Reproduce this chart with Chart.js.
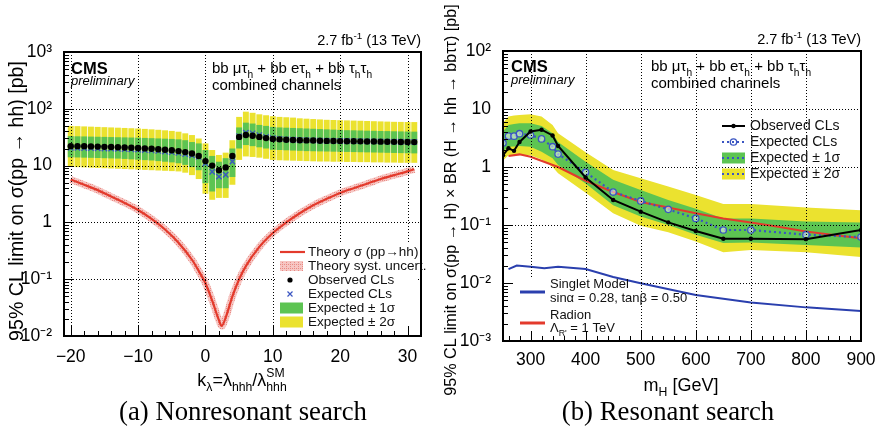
<!DOCTYPE html>
<html>
<head>
<meta charset="utf-8">
<script src="https://cdn.jsdelivr.net/npm/chart.js@4.4.1/dist/chart.umd.min.js"></script>
<style>
    html, body { margin: 0; padding: 0; background: #fff; }
    #wrap { position: relative; width: 877px; height: 431px; }
    #cA { position: absolute; left: 0; top: 0; width: 440px; height: 431px; }
    #cB { position: absolute; left: 440px; top: 0; width: 437px; height: 431px; }
</style>
</head>
<body>
<div id="wrap">
    <canvas id="cA" width="440" height="431"></canvas>
    <canvas id="cB" width="437" height="431"></canvas>
</div>
<script>
// =============================================
// DATA - (a) nonresonant search
// =============================================

const kLambda = [-20,-19,-18,-17,-16,-15,-14,-13,-12,-11,-10,-9,-8,-7,-6,-5,-4,-3,-2,-1,
                 0,1,2,3,4,
                 5,6,7,8,9,10,11,12,13,14,15,16,17,18,19,20,21,22,23,24,25,26,27,28,29,30,31];

const obsA = [22.0,22.0,22.0,21.8,21.6,21.4,21.2,21.0,20.8,20.6,20.4,20.1,19.8,19.4,19.0,18.6,18.0,17.3,16.3,14.8,
              12.0,10.0,8.3,9.3,14.8,
              32.0,34.5,33.5,32.0,30.5,29.5,29.0,28.6,28.3,28.0,27.8,27.6,27.4,27.2,27.1,27.0,26.9,26.8,26.7,26.6,26.5,26.4,26.3,26.2,26.1,26.0,25.9];

const expA = [20.5,20.5,20.4,20.3,20.2,20.0,19.9,19.7,19.5,19.3,19.1,18.8,18.5,18.1,17.7,17.2,16.7,16.0,15.2,14.2,
              11.0,7.8,6.4,6.9,11.8,
              33.0,38.0,37.0,34.5,32.0,30.5,29.5,29.0,28.6,28.2,28.0,27.8,27.6,27.4,27.3,27.2,27.1,27.0,26.9,26.8,26.7,26.6,26.5,26.4,26.3,26.2,26.1];

const sig1LoA = [14.0,13.9,13.8,13.7,13.6,13.5,13.4,13.3,13.1,12.9,12.7,12.5,12.3,12.0,11.7,11.4,11.0,10.3,9.4,8.3,
                 4.9,3.5,4.0,4.0,6.3,
                 20.0,23.0,22.0,21.0,20.0,19.0,18.8,18.6,18.4,18.2,18.0,17.9,17.8,17.7,17.6,17.5,17.4,17.3,17.2,17.1,17.0,16.9,16.8,16.7,16.6,16.5,16.4];
const sig1HiA = [33.0,32.8,32.6,32.4,32.2,32.0,31.8,31.6,31.4,31.2,31.0,30.7,30.4,30.1,29.8,29.5,29.0,28.0,26.0,24.6,
                 18.8,14.8,11.7,13.5,20.0,
                 47,57,55,52,50,48,47,46.5,46,45.5,45,44.5,44,43.5,43,42.5,42,41.8,41.5,41.2,41,40.7,40.5,40.2,40,39.8,39.6];
const sig2LoA = [9.5,9.4,9.3,9.2,9.1,9.0,8.9,8.8,8.7,8.6,8.5,8.4,8.3,8.2,8.1,8.0,7.9,7.5,6.8,5.8,
                 3.2,2.5,2.7,2.7,4.6,
                 12.6,14.5,14.2,13.8,13.2,12.6,12.4,12.3,12.2,12.1,12.0,11.9,11.8,11.8,11.7,11.7,11.6,11.6,11.5,11.5,11.4,11.4,11.3,11.3,11.2,11.2,11.2];
const sig2HiA = [50,49.5,49,48.5,48,47.5,47,46.5,46,45.5,45,44.3,43.5,42.7,41.8,40.8,39.5,37,34.5,30,
                 24.6,18.8,15.4,16.9,28,
                 72,89,85,80,77,74,72,71,70,68,67,66,65,64,63.5,63,62.5,62,61.5,61,60.5,60,59.5,59,58.8,58.6,58.4];

// theory sigma(pp->hh) curve
const theoryK  = [-20,-18,-16,-14,-12,-10,-8,-6,-4,-2,-1,0,1,2,2.4,3,4,5,6,8,10,12,14,16,18,20,22,24,26,28,30,31];
const theoryXS = [5.7,4.6,3.7,2.85,2.2,1.65,1.15,0.75,0.44,0.22,0.14,0.085,0.042,0.019,0.015,0.021,0.05,0.1,0.17,
                  0.37,0.65,1.0,1.45,2.0,2.6,3.3,4.0,4.8,5.8,6.8,7.9,8.6];

const kTicks    = [-20, -10, 0, 10, 20, 30];
const kLabels   = ["\u221220", "\u221210", "0", "10", "20", "30"];
const yTicksA   = [1e-2, 1e-1, 1, 10, 100, 1000];
const yLabelsA  = ["10\u207B\u00B2", "10\u207B\u00B9", "1", "10", "10\u00B2", "10\u00B3"];

// =============================================
// DATA - (b) resonant search
// =============================================

const massH  = [250,260,270,280,300,320,340,350,400,450,500,550,600,650,700,800,900];
const obsB   = [1.6,2.1,1.9,2.7,4.1,4.4,3.5,2.3,0.66,0.27,0.17,0.111,0.079,0.058,0.058,0.057,0.082];
const expB   = [2.6,3.4,3.4,3.75,3.56,3.05,2.24,1.67,0.81,0.37,0.26,0.186,0.13,0.082,0.082,0.068,0.062];
const sig1LoB = [1.84,2.24,2.25,2.3,2.24,1.84,1.41,1.08,0.52,0.22,0.14,0.1,0.068,0.049,0.05,0.045,0.041];
const sig1HiB = [4.1,5.3,5.5,5.7,5.7,5.1,3.8,2.7,1.23,0.6,0.4,0.27,0.19,0.13,0.13,0.115,0.11];
const sig2LoB = [1.3,1.6,1.6,1.6,1.6,1.35,1.0,0.78,0.36,0.16,0.097,0.075,0.052,0.034,0.037,0.034,0.028];
const sig2HiB = [5.8,7.4,7.7,7.9,8.1,7.4,5.3,3.8,1.8,0.89,0.64,0.46,0.33,0.23,0.23,0.2,0.18];

const radionMass = [260,280,300,350,400,450,500,550,600,650,700,750,800,850,900];
const radionXS   = [1.55,1.65,1.5,1.0,0.58,0.37,0.25,0.2,0.16,0.13,0.11,0.093,0.077,0.067,0.059];

const singletMass = [260,275,300,325,350,400,450,500,600,700,800,900];
const singletXS   = [0.0174,0.02,0.019,0.0179,0.019,0.0174,0.0127,0.0099,0.0062,0.0046,0.0038,0.0033];

const mTicks   = [300, 400, 500, 600, 700, 800, 900];
const mLabels  = ["300", "400", "500", "600", "700", "800", "900"];
const yTicksB  = [1e-3, 1e-2, 1e-1, 1, 10, 100];
const yLabelsB = ["10\u207B\u00B3", "10\u207B\u00B2", "10\u207B\u00B9", "1", "10", "10\u00B2"];

// =============================================
// STYLE
// =============================================

const SANS  = '"Liberation Sans", Arial, Helvetica, sans-serif';
const SERIF = '"Liberation Serif", "Times New Roman", serif';
const GREEN  = "#5dc452";
const YELLOW = "#ebe22f";
const BLUE   = "#3a55c2";
const RED    = "#e33a2c";

function pts(xs, ys) {
    return xs.map((x, i) => ({ x: x, y: ys[i] }));
}
function bars(xs, lo, hi) {
    return xs.map((x, i) => ({ x: x, y: [lo[i], hi[i]] }));
}
function minorLog(e0, e1) {
    const out = [];
    for (let e = e0; e < e1; e++) {
        for (let m = 2; m <= 9; m++) out.push(m * Math.pow(10, e));
    }
    return out;
}
function range(a, b, step) {
    const out = [];
    for (let v = a; v <= b; v += step) out.push(v);
    return out;
}

// pink hatch for theory uncertainty
function makeHatch(ctx) {
    const c = document.createElement("canvas");
    c.width = 4; c.height = 4;
    const g = c.getContext("2d");
    g.fillStyle = "#f6c6c3";
    g.fillRect(0, 0, 4, 4);
    g.fillStyle = "#e98a84";
    g.fillRect(0, 0, 1, 1);
    g.fillRect(2, 2, 1, 1);
    g.fillRect(2, 0, 1, 1);
    return ctx.createPattern(c, "repeat");
}

// text with sub/superscripts: parts = [text, mode] (0 normal, 1 sub, 2 sup, 3 [sup, sub] stacked)
function richText(ctx, parts, x, y, size, align) {
    const small = size * 0.68;
    const widthOf = (p) => {
        if (p[1] === 3) {
            ctx.font = `${small}px ${SANS}`;
            return Math.max(ctx.measureText(p[0][0]).width, ctx.measureText(p[0][1]).width);
        }
        ctx.font = `${p[1] ? small : size}px ${SANS}`;
        return ctx.measureText(p[0]).width;
    };
    let total = 0;
    parts.forEach(p => total += widthOf(p));
    let cx = align === "center" ? x - total / 2 : align === "right" ? x - total : x;
    ctx.textAlign = "left";
    ctx.textBaseline = "alphabetic";
    parts.forEach(p => {
        const w = widthOf(p);
        if (p[1] === 3) {
            ctx.font = `${small}px ${SANS}`;
            ctx.fillText(p[0][0], cx, y - size * 0.5);
            ctx.fillText(p[0][1], cx, y + size * 0.3);
        } else {
            ctx.font = `${p[1] ? small : size}px ${SANS}`;
            const dy = p[1] === 1 ? size * 0.3 : p[1] === 2 ? -size * 0.42 : 0;
            ctx.fillText(p[0], cx, y + dy);
        }
        cx += w;
    });
}

function captionSize(ctx) {
    ctx.font = `22px ${SERIF}`;
    return 22 * 248 / ctx.measureText("(a) Nonresonant search").width;
}

// grid drawn over the bands, ROOT style; the legend area is left free
function drawGrid(chart, xMajor, yMajor, hole) {
    const { ctx, chartArea: a, scales: { x, y } } = chart;
    ctx.save();
    ctx.beginPath();
    ctx.rect(a.left, a.top, a.right - a.left, a.bottom - a.top);
    ctx.rect(hole[0], hole[1], hole[2], hole[3]);
    ctx.clip("evenodd");
    ctx.strokeStyle = "#000";
    ctx.lineWidth = 1;
    ctx.setLineDash([1, 2]);
    ctx.beginPath();
    xMajor.forEach(v => {
        const p = Math.round(x.getPixelForValue(v)) + 0.5;
        if (p > a.left + 2 && p < a.right - 2) { ctx.moveTo(p, a.top); ctx.lineTo(p, a.bottom); }
    });
    yMajor.forEach(v => {
        const p = Math.round(y.getPixelForValue(v)) + 0.5;
        if (p > a.top + 2 && p < a.bottom - 2) { ctx.moveTo(a.left, p); ctx.lineTo(a.right, p); }
    });
    ctx.stroke();
    ctx.restore();
}

function drawTicksFrame(chart, xMajor, xMinor, yMajor, yMinor) {
    const { ctx, chartArea: a, scales: { x, y } } = chart;
    ctx.save();
    ctx.strokeStyle = "#000";
    ctx.lineWidth = 1;
    ctx.beginPath();
    const xt = (list, len) => list.forEach(v => {
        const p = Math.round(x.getPixelForValue(v)) + 0.5;
        if (p >= a.left && p <= a.right) { ctx.moveTo(p, a.bottom); ctx.lineTo(p, a.bottom - len); }
    });
    const yt = (list, len) => list.forEach(v => {
        const p = Math.round(y.getPixelForValue(v)) + 0.5;
        if (p >= a.top && p <= a.bottom) { ctx.moveTo(a.left, p); ctx.lineTo(a.left + len, p); }
    });
    xt(xMajor, 10); xt(xMinor, 5);
    yt(yMajor, 10); yt(yMinor, 5);
    ctx.stroke();
    ctx.lineWidth = 2;
    ctx.strokeRect(a.left, a.top, a.right - a.left, a.bottom - a.top);
    ctx.restore();
}

function drawHeader(ctx, right, lumiY, cmsY, prelY, chanX, chanY, combY) {
    ctx.fillStyle = "#000";
    richText(ctx, [["2.7 fb", 0], ["-1", 2], [" (13 TeV)", 0]], right, lumiY, 14.5, "right");
    ctx.textAlign = "left";
    ctx.textBaseline = "alphabetic";
    ctx.font = `bold 16.5px ${SANS}`;
    ctx.fillText("CMS", 71, cmsY);
    ctx.font = `italic 13px ${SANS}`;
    ctx.fillText("preliminary", 71, prelY);
    richText(ctx, [["bb \u03BC\u03C4", 0], ["h", 1], [" + bb e\u03C4", 0], ["h", 1],
                   [" + bb \u03C4", 0], ["h", 1], ["\u03C4", 0], ["h", 1]], chanX, chanY, 15, "left");
    ctx.font = `15px ${SANS}`;
    ctx.fillText("combined channels", chanX, combY);
}

// rotated axis title, font size chosen so the text spans the given length
function drawRotated(ctx, text, cx, cy, span) {
    ctx.save();
    ctx.font = `18px ${SANS}`;
    const size = 18 * span / ctx.measureText(text).width;
    ctx.translate(cx, cy);
    ctx.rotate(-Math.PI / 2);
    ctx.font = `${size}px ${SANS}`;
    ctx.textAlign = "center";
    ctx.textBaseline = "middle";
    ctx.fillStyle = "#000";
    ctx.fillText(text, 0, 0);
    ctx.restore();
}

// =============================================
// CHART (a)
// =============================================

const ctxA = document.getElementById("cA").getContext("2d");
const hatch = makeHatch(ctxA);

const xMinorA = range(-20, 32, 2);
const yMinorA = minorLog(-2, 3);
const legendBoxA = [277, 243, 141, 88];

const panelA = {
    id: "panelA",
    afterDatasetsDraw(chart) {
        drawGrid(chart, kTicks, yTicksA, legendBoxA);
    },
    afterDraw(chart) {
        const ctx = chart.ctx;
        ctx.save();

        // legend
        const rows = [252, 266, 280, 294, 308, 322];
        ctx.strokeStyle = RED; ctx.lineWidth = 2.2;
        ctx.beginPath(); ctx.moveTo(280, rows[0]); ctx.lineTo(305, rows[0]); ctx.stroke();
        ctx.fillStyle = hatch; ctx.fillRect(280, rows[1] - 5, 23, 10);
        ctx.fillStyle = "#000";
        ctx.beginPath(); ctx.arc(290, rows[2], 2.6, 0, Math.PI * 2); ctx.fill();
        ctx.strokeStyle = BLUE; ctx.lineWidth = 1.2;
        ctx.beginPath();
        ctx.moveTo(287.5, rows[3] - 2.5); ctx.lineTo(292.5, rows[3] + 2.5);
        ctx.moveTo(292.5, rows[3] - 2.5); ctx.lineTo(287.5, rows[3] + 2.5);
        ctx.stroke();
        ctx.fillStyle = GREEN; ctx.fillRect(280, rows[4] - 5.5, 23, 11);
        ctx.fillStyle = YELLOW; ctx.fillRect(280, rows[5] - 5.5, 23, 11);
        ctx.fillStyle = "#111";
        ctx.font = `13.5px ${SANS}`;
        ctx.textAlign = "left"; ctx.textBaseline = "middle";
        ["Theory \u03C3 (pp\u2192hh)", "Theory syst. uncert.", "Observed CLs", "Expected CLs",
         "Expected \u00B1 1\u03C3", "Expected \u00B1 2\u03C3"].forEach((t, i) => ctx.fillText(t, 308, rows[i]));

        drawTicksFrame(chart, kTicks, xMinorA, yTicksA, yMinorA);

        drawHeader(ctx, 421, 45, 74, 85, 212, 73, 90);
        drawRotated(ctx, "95% CL limit on \u03C3(pp \u2192 hh) [pb]", 18, 201, 280);
        richText(ctx, [["k", 0], ["\u03BB", 1], ["=\u03BB", 0], ["hhh", 1], ["/\u03BB", 0], [["SM", "hhh"], 3]],
                 242, 386, 18, "center");
        const cs = captionSize(ctx);
        ctx.font = `${cs}px ${SERIF}`;
        ctx.textAlign = "center"; ctx.textBaseline = "alphabetic"; ctx.fillStyle = "#000";
        ctx.fillText("(a) Nonresonant search", 243, 420);
        ctx.restore();
    }
};

new Chart(ctxA, {
    type: "line",
    data: {
        datasets: [
            {
                label: "Observed CLs", data: pts(kLambda, obsA), showLine: false,
                pointStyle: "circle", pointRadius: 3.2, pointBackgroundColor: "#000",
                pointBorderColor: "#000", pointBorderWidth: 0, order: 0
            },
            {
                label: "Expected CLs", data: pts(kLambda, expA), showLine: false,
                pointStyle: "crossRot", pointRadius: 3.8, pointBorderColor: BLUE,
                pointBorderWidth: 1.3, order: 1
            },
            {
                label: "Theory", data: pts(theoryK, theoryXS), borderColor: RED, borderWidth: 2.2,
                pointRadius: 0, cubicInterpolationMode: "monotone", order: 2
            },
            {
                label: "Theory syst.", data: pts(theoryK, theoryXS), borderColor: hatch, borderWidth: 7,
                pointRadius: 0, cubicInterpolationMode: "monotone", order: 3
            },
            {
                type: "bar", label: "1 sigma", data: bars(kLambda, sig1LoA, sig1HiA),
                backgroundColor: GREEN, grouped: false, barPercentage: 0.88, categoryPercentage: 1, order: 4
            },
            {
                type: "bar", label: "2 sigma", data: bars(kLambda, sig2LoA, sig2HiA),
                backgroundColor: YELLOW, grouped: false, barPercentage: 0.88, categoryPercentage: 1, order: 5
            }
        ]
    },
    options: {
        responsive: false,
        animation: false,
        layout: { padding: { left: 0, top: 52, right: 19, bottom: 0 } },
        plugins: { legend: { display: false }, tooltip: { enabled: false } },
        scales: {
            x: {
                type: "linear", min: -21, max: 32, offset: false,
                grid: { display: false }, border: { display: false },
                afterBuildTicks: s => { s.ticks = kTicks.map(v => ({ value: v })); },
                afterFit: s => { s.height = 95; s.paddingLeft = 0; s.paddingRight = 0; },
                ticks: {
                    autoSkip: false, maxRotation: 0, minRotation: 0, padding: 3, color: "#000",
                    font: { family: SANS, size: 17.5 },
                    callback: (v, i) => kLabels[i]
                }
            },
            y: {
                type: "logarithmic", min: 0.01, max: 1000,
                grid: { display: false }, border: { display: false },
                afterBuildTicks: s => { s.ticks = yTicksA.map(v => ({ value: v })); },
                afterFit: s => { s.width = 64; s.paddingTop = 0; s.paddingBottom = 0; },
                ticks: {
                    autoSkip: false, padding: 4, color: "#000",
                    font: { family: SANS, size: 17.5 },
                    callback: (v, i) => yLabelsA[i]
                }
            }
        }
    },
    plugins: [panelA]
});

// =============================================
// CHART (b)
// =============================================

const ctxB = document.getElementById("cB").getContext("2d");
const xMinorB = range(260, 900, 20);
const yMinorB = minorLog(-3, 2);
const legendBoxB = [64, 279, 136, 62];

function dottedBlue(ctx, x0, x1, y) {
    ctx.save();
    ctx.strokeStyle = BLUE; ctx.lineWidth = 2.2;
    ctx.setLineDash([2, 3]);
    ctx.beginPath(); ctx.moveTo(x0, y); ctx.lineTo(x1, y); ctx.stroke();
    ctx.restore();
}

const panelB = {
    id: "panelB",
    afterDatasetsDraw(chart) {
        drawGrid(chart, mTicks, yTicksB, legendBoxB);
    },
    afterDraw(chart) {
        const ctx = chart.ctx;
        ctx.save();

        // upper legend
        const rows = [126, 142, 158, 174];
        ctx.strokeStyle = "#000"; ctx.lineWidth = 2;
        ctx.beginPath(); ctx.moveTo(282, rows[0]); ctx.lineTo(305, rows[0]); ctx.stroke();
        ctx.fillStyle = "#000";
        ctx.beginPath(); ctx.arc(293.5, rows[0], 2.2, 0, Math.PI * 2); ctx.fill();
        dottedBlue(ctx, 282, 305, rows[1]);
        ctx.strokeStyle = BLUE; ctx.lineWidth = 1.3;
        ctx.beginPath(); ctx.arc(293.5, rows[1], 3.2, 0, Math.PI * 2); ctx.stroke();
        ctx.fillStyle = GREEN; ctx.fillRect(282, rows[2] - 5.5, 23, 11);
        dottedBlue(ctx, 282, 305, rows[2]);
        ctx.fillStyle = YELLOW; ctx.fillRect(282, rows[3] - 5.5, 23, 11);
        dottedBlue(ctx, 282, 305, rows[3]);
        ctx.fillStyle = "#111";
        ctx.font = `14px ${SANS}`;
        ctx.textAlign = "left"; ctx.textBaseline = "middle";
        ["Observed CLs", "Expected CLs", "Expected \u00B1 1\u03C3", "Expected \u00B1 2\u03C3"]
            .forEach((t, i) => ctx.fillText(t, 310, rows[i]));

        // lower legend
        ctx.strokeStyle = "#2a3fae"; ctx.lineWidth = 3;
        ctx.beginPath(); ctx.moveTo(80, 292); ctx.lineTo(105, 292); ctx.stroke();
        ctx.strokeStyle = RED;
        ctx.beginPath(); ctx.moveTo(80, 323); ctx.lineTo(105, 323); ctx.stroke();
        ctx.fillStyle = "#111";
        ctx.font = `13px ${SANS}`;
        ctx.textAlign = "left"; ctx.textBaseline = "alphabetic";
        ctx.fillText("Singlet Model", 110, 288);
        ctx.fillText("sin\u03B1 = 0.28, tan\u03B2 = 0.50", 110, 302);
        ctx.fillText("Radion", 110, 319);
        richText(ctx, [["\u039B", 0], ["R'", 1], [" = 1 TeV", 0]], 110, 332, 13, "left");

        drawTicksFrame(chart, mTicks, xMinorB, yTicksB, yMinorB);

        drawHeader(ctx, 421, 44, 72, 84, 211, 71, 88);
        drawRotated(ctx, "95% CL limit on \u03C3(pp \u2192 H) \u00D7 BR (H \u2192 hh \u2192 bb\u03C4\u03C4) [pb]", 12, 200, 392);
        richText(ctx, [["m", 0], ["H", 1], [" [GeV]", 0]], 241, 391, 18, "center");
        const cs = captionSize(ctx);
        ctx.font = `${cs}px ${SERIF}`;
        ctx.textAlign = "center"; ctx.textBaseline = "alphabetic"; ctx.fillStyle = "#000";
        ctx.fillText("(b) Resonant search", 228, 420);
        ctx.restore();
    }
};

const clear = "rgba(0,0,0,0)";

new Chart(ctxB, {
    type: "line",
    data: {
        datasets: [
            {   // 0
                label: "Observed CLs", data: pts(massH, obsB), borderColor: "#000", borderWidth: 2,
                pointRadius: 2.2, pointBackgroundColor: "#000", pointBorderWidth: 0, order: 0
            },
            {   // 1
                label: "Expected CLs", data: pts(massH, expB), borderColor: BLUE, borderWidth: 2.2,
                borderDash: [2, 3], pointRadius: 3.2, pointBorderColor: BLUE, pointBorderWidth: 1.3,
                pointBackgroundColor: "rgba(255,255,255,0.5)", order: 1
            },
            {   // 2
                label: "Radion", data: pts(radionMass, radionXS), borderColor: RED, borderWidth: 2,
                pointRadius: 0, order: 2
            },
            {   // 3
                label: "Singlet", data: pts(singletMass, singletXS), borderColor: "#2a3fae", borderWidth: 2,
                pointRadius: 0, order: 3
            },
            {   // 4
                label: "1 sigma low", data: pts(massH, sig1LoB), borderColor: clear, pointRadius: 0, order: 5
            },
            {   // 5
                label: "1 sigma high", data: pts(massH, sig1HiB), borderColor: clear, pointRadius: 0,
                fill: { target: 4 }, backgroundColor: GREEN, order: 5
            },
            {   // 6
                label: "2 sigma low", data: pts(massH, sig2LoB), borderColor: clear, pointRadius: 0, order: 6
            },
            {   // 7
                label: "2 sigma high", data: pts(massH, sig2HiB), borderColor: clear, pointRadius: 0,
                fill: { target: 6 }, backgroundColor: YELLOW, order: 6
            }
        ]
    },
    options: {
        responsive: false,
        animation: false,
        layout: { padding: { left: 0, top: 51, right: 16, bottom: 0 } },
        plugins: { legend: { display: false }, tooltip: { enabled: false } },
        scales: {
            x: {
                type: "linear", min: 250, max: 900, offset: false,
                grid: { display: false }, border: { display: false },
                afterBuildTicks: s => { s.ticks = mTicks.map(v => ({ value: v })); },
                afterFit: s => { s.height = 90; s.paddingLeft = 0; s.paddingRight = 0; },
                ticks: {
                    autoSkip: false, maxRotation: 0, minRotation: 0, padding: 1, color: "#000",
                    font: { family: SANS, size: 17.5 },
                    callback: (v, i) => mLabels[i]
                }
            },
            y: {
                type: "logarithmic", min: 0.001, max: 100,
                grid: { display: false }, border: { display: false },
                afterBuildTicks: s => { s.ticks = yTicksB.map(v => ({ value: v })); },
                afterFit: s => { s.width = 63; s.paddingTop = 0; s.paddingBottom = 0; },
                ticks: {
                    autoSkip: false, padding: 4, color: "#000",
                    font: { family: SANS, size: 17.5 },
                    callback: (v, i) => yLabelsB[i]
                }
            }
        }
    },
    plugins: [panelB]
});
</script>
</body>
</html>
